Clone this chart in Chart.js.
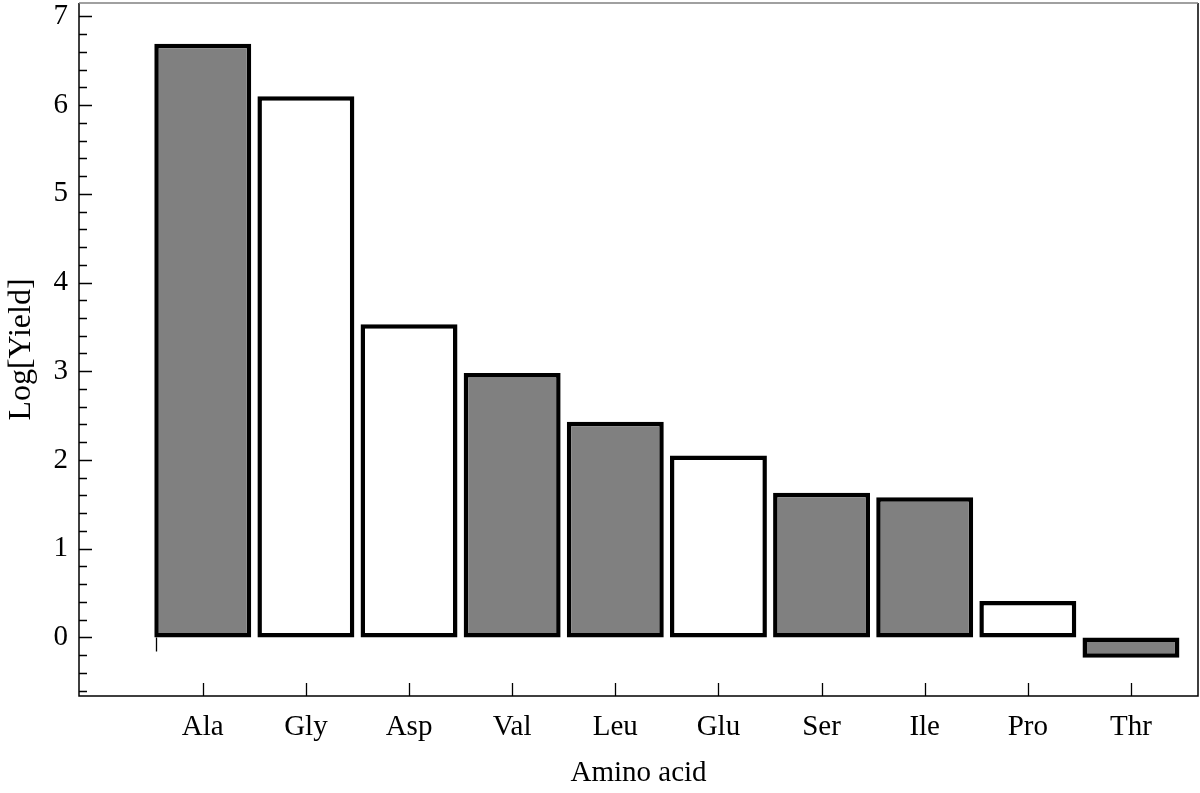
<!DOCTYPE html>
<html>
<head>
<meta charset="utf-8">
<script src="https://cdn.jsdelivr.net/npm/chart.js@4"></script>
<style>
  html, body { margin: 0; padding: 0; background: #fff; }
</style>
</head>
<body>
<canvas id="chart" width="1200" height="793"></canvas>
<script>
// Data
const aminoAcids = ['Ala', 'Gly', 'Asp', 'Val', 'Leu', 'Glu', 'Ser', 'Ile', 'Pro', 'Thr'];
const logYield = [6.69, 6.10, 3.53, 2.98, 2.43, 2.05, 1.63, 1.58, 0.41, -0.23];
const shaded = [true, false, false, true, true, false, true, true, false, true];
const yMajorTicks = [0, 1, 2, 3, 4, 5, 6, 7];

const serif = "'Liberation Serif', 'DejaVu Serif', serif";

// Frame and inward tick marks, Mathematica style
const framePlugin = {
    id: 'frame',
    afterDraw(chart) {
        const ctx = chart.ctx;
        const area = chart.chartArea;
        const xs = chart.scales.x;
        const ys = chart.scales.y;
        ctx.save();
        ctx.strokeStyle = '#000';
        ctx.lineWidth = 1.5;
        ctx.beginPath();
        ctx.moveTo(area.left, area.top);
        ctx.lineTo(area.left, area.bottom);
        ctx.lineTo(area.right, area.bottom);
        ctx.lineTo(area.right, area.top);
        ctx.stroke();
        ctx.strokeStyle = '#808080';
        ctx.beginPath();
        ctx.moveTo(area.left, area.top);
        ctx.lineTo(area.right, area.top);
        ctx.stroke();

        ctx.strokeStyle = '#000';
        ctx.lineWidth = 1.3;
        ctx.beginPath();
        // y ticks: major at integers, minor every 0.2
        for (let k = Math.ceil(ys.min * 5); k <= Math.floor(ys.max * 5); k++) {
            const py = Math.round(ys.getPixelForValue(k / 5)) + 0.5;
            const len = (k % 5 === 0) ? 13 : 8;
            ctx.moveTo(area.left, py);
            ctx.lineTo(area.left + len, py);
        }
        // x ticks at category centres
        aminoAcids.forEach((a, i) => {
            const px = Math.round(xs.getPixelForValue(i)) + 0.5;
            ctx.moveTo(px, area.bottom);
            ctx.lineTo(px, area.bottom - 13);
        });
        // axis stub below the origin of the first bar
        const first = chart.getDatasetMeta(0).data[0];
        const sx = Math.round(first.x - first.width / 2 + 2) + 0.5;
        const y0 = ys.getPixelForValue(0);
        ctx.moveTo(sx, y0);
        ctx.lineTo(sx, y0 + 14);
        ctx.stroke();
        ctx.restore();
    }
};

new Chart(document.getElementById('chart'), {
    type: 'bar',
    data: {
        datasets: [{
            data: aminoAcids.map((a, i) => ({ x: i, y: logYield[i] })),
            backgroundColor: shaded.map(s => s ? '#808080' : '#ffffff'),
            borderColor: '#000',
            borderWidth: 4.5,
            borderSkipped: false,
            barPercentage: 0.94,
            categoryPercentage: 1.0
        }]
    },
    options: {
        responsive: false,
        devicePixelRatio: 1,
        animation: false,
        layout: { padding: { top: 3, right: 2, left: 0, bottom: 0 } },
        plugins: { legend: { display: false }, tooltip: { enabled: false } },
        scales: {
            x: {
                type: 'linear',
                offset: false,
                min: -1.2,
                max: 9.65,
                grid: { display: false, drawTicks: false, offset: false },
                border: { display: false },
                afterBuildTicks: s => { s.ticks = aminoAcids.map((a, i) => ({ value: i })); },
                afterFit: s => { s.height = 97; s.paddingLeft = 0; s.paddingRight = 0; },
                ticks: {
                    autoSkip: false,
                    maxRotation: 0,
                    padding: 14,
                    color: '#000',
                    font: { family: serif, size: 29 },
                    callback: v => aminoAcids[v]
                },
                title: {
                    display: true,
                    text: 'Amino acid',
                    color: '#000',
                    font: { family: serif, size: 29 },
                    padding: { top: 0, bottom: 2 }
                }
            },
            y: {
                min: -0.66,
                max: 7.15,
                grid: { display: false, drawTicks: false },
                border: { display: false },
                afterBuildTicks: s => { s.ticks = yMajorTicks.map(v => ({ value: v })); },
                afterFit: s => { s.width = 79; s.paddingTop = 0; s.paddingBottom = 0; },
                ticks: {
                    padding: 11,
                    color: '#000',
                    font: { family: serif, size: 29 }
                },
                title: {
                    display: true,
                    text: 'Log[Yield]',
                    color: '#000',
                    font: { family: serif, size: 32 },
                    padding: { top: 2, bottom: 0 }
                }
            }
        }
    },
    plugins: [framePlugin]
});
</script>
</body>
</html>
